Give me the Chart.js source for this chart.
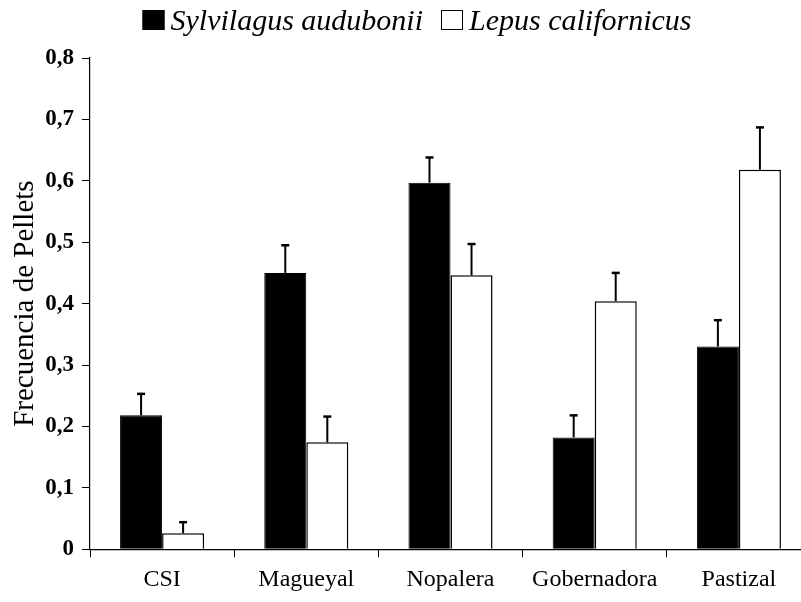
<!DOCTYPE html>
<html>
<head>
<meta charset="utf-8">
<script src="https://cdn.jsdelivr.net/npm/chart.js@4"></script>
<style>
  html, body { margin: 0; padding: 0; background: #fff; overflow: hidden; width: 801px; height: 602px; }
  #wrap { position: relative; width: 820px; height: 602px; }
</style>
</head>
<body>
<div id="wrap"><canvas id="c" width="820" height="602"></canvas></div>
<script>
const categories = ['CSI', 'Magueyal', 'Nopalera', 'Gobernadora', 'Pastizal'];
const sylvilagus = [0.218, 0.45, 0.597, 0.182, 0.33];
const sylvilagusErr = [0.035, 0.045, 0.041, 0.036, 0.043];
const lepus = [0.026, 0.174, 0.446, 0.404, 0.618];
const lepusErr = [0.018, 0.042, 0.051, 0.046, 0.069];
const yTicks = [0, 0.1, 0.2, 0.3, 0.4, 0.5, 0.6, 0.7, 0.8];

const SERIF = '"Liberation Serif", "Times New Roman", serif';

const errorBars = {
  id: 'errorBars',
  afterDatasetsDraw(chart) {
    const ctx = chart.ctx;
    const y = chart.scales.y;
    chart.data.datasets.forEach((ds, i) => {
      const meta = chart.getDatasetMeta(i);
      meta.data.forEach((bar, j) => {
        const v = ds.data[j], e = ds.errors[j];
        const yTop = y.getPixelForValue(v + e);
        const yBase = y.getPixelForValue(v);
        ctx.save();
        ctx.strokeStyle = '#000';
        ctx.lineWidth = 2;
        ctx.beginPath();
        ctx.moveTo(bar.x, yBase);
        ctx.lineTo(bar.x, yTop);
        ctx.stroke();
        ctx.lineWidth = 2.5;
        ctx.beginPath();
        ctx.moveTo(bar.x - 4, yTop);
        ctx.lineTo(bar.x + 4, yTop);
        ctx.stroke();
        ctx.restore();
      });
    });
  }
};

const topLegend = {
  id: 'topLegend',
  afterDraw(chart) {
    const ctx = chart.ctx;
    ctx.save();
    ctx.font = 'italic 30px ' + SERIF;
    ctx.textBaseline = 'alphabetic';
    ctx.textAlign = 'left';
    const ds = chart.data.datasets;
    const boxW = 22, boxH = 20, gapText = 6, gapItem = 18;
    const widths = ds.map(d => ctx.measureText(d.label).width);
    let total = 0;
    widths.forEach((w, i) => { total += boxW + gapText + w + (i < widths.length - 1 ? gapItem : 0); });
    let x = 417 - total / 2;
    ds.forEach((d, i) => {
      ctx.fillStyle = d.backgroundColor;
      ctx.fillRect(x, 10, boxW, boxH);
      ctx.strokeStyle = '#000';
      ctx.lineWidth = 1;
      ctx.strokeRect(x + 0.5, 10.5, boxW - 1, boxH - 1);
      ctx.fillStyle = '#000';
      ctx.fillText(d.label, x + boxW + gapText, 30);
      x += boxW + gapText + widths[i] + gapItem;
    });
    ctx.restore();
  }
};

new Chart(document.getElementById('c'), {
  type: 'bar',
  data: {
    labels: categories,
    datasets: [
      { label: 'Sylvilagus audubonii', data: sylvilagus, errors: sylvilagusErr,
        backgroundColor: '#000', borderColor: '#000', borderWidth: 1 },
      { label: 'Lepus californicus', data: lepus, errors: lepusErr,
        backgroundColor: '#fff', borderColor: '#000', borderWidth: 1.5 }
    ]
  },
  options: {
    responsive: false,
    animation: false,
    devicePixelRatio: 1,
    layout: { padding: { left: 0, right: 9, top: 58, bottom: 0 } },
    datasets: { bar: { barPercentage: 1, categoryPercentage: 0.583 } },
    plugins: {
      tooltip: { enabled: false },
      legend: { display: false }
    },
    scales: {
      x: {
        border: { color: '#000', width: 1.2 },
        grid: { display: true, drawOnChartArea: false, drawTicks: true, tickLength: 8, color: '#000', offset: true },
        ticks: {
          color: '#000', padding: 8,
          font: { family: SERIF, size: 24 }
        }
      },
      y: {
        min: 0, max: 0.8,
        afterBuildTicks(axis) { axis.ticks = yTicks.map(v => ({ value: v })); },
        afterFit(axis) { axis.width = 90; },
        border: { color: '#000', width: 1.2 },
        grid: { display: true, drawOnChartArea: false, drawTicks: true, tickLength: 8, color: '#000' },
        title: {
          display: true, text: 'Frecuencia de Pellets', color: '#000',
          font: { family: SERIF, size: 29 },
          padding: { top: 8, bottom: 3 }
        },
        ticks: {
          color: '#000', padding: 8,
          font: { family: SERIF, size: 23, weight: 'bold' },
          callback(v) { return v === 0 ? '0' : (Math.round(v * 10) / 10).toFixed(1).replace('.', ','); }
        }
      }
    }
  },
  plugins: [errorBars, topLegend]
});
</script>
</body>
</html>
